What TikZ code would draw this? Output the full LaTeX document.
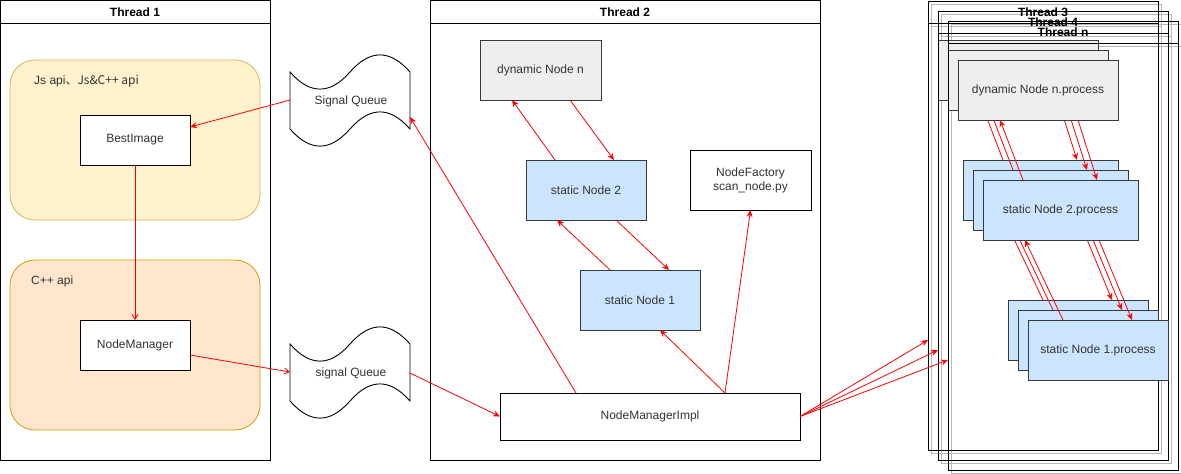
\documentclass[tikz,border=0pt]{standalone}
\usepackage{fontspec}
\setmainfont{Liberation Sans}
\newfontfamily\cjk{Noto Sans CJK SC}
\usetikzlibrary{arrows.meta,calc,positioning}
\definecolor{boxedge}{HTML}{36393D}
\definecolor{statfill}{HTML}{CCE5FF}
\definecolor{dynfill}{HTML}{EEEEEE}
\definecolor{jsfill}{HTML}{FFF2CC}
\definecolor{jsedge}{HTML}{D6B656}
\definecolor{cppfill}{HTML}{FFE6CC}
\definecolor{cppedge}{HTML}{D79B00}
\definecolor{txtgrey}{HTML}{333333}
\definecolor{shadowgrey}{HTML}{B8B8B8}
\definecolor{arrowred}{HTML}{FF0000}

\tikzset{
  lane/.style={draw=black, line width=1pt},
  laneshadow/.style={draw=shadowgrey, line width=1pt},
  lanetitle/.style={font=\fontsize{12}{14}\selectfont\bfseries, text=black},
  jsgroup/.style={draw=jsedge, fill=jsfill, line width=0.8pt, rounded corners=25pt},
  cppgroup/.style={draw=cppedge, fill=cppfill, line width=0.8pt, rounded corners=25pt},
  grouplabel/.style={text=txtgrey, anchor=west, inner sep=0pt},
  plainbox/.style={draw=black, fill=white, line width=1pt, text=txtgrey, inner sep=0pt, outer sep=0pt, align=center},
  statbox/.style={draw=boxedge, fill=statfill, line width=1pt, text=txtgrey, inner sep=0pt, outer sep=0pt},
  dynbox/.style={draw=boxedge, fill=dynfill, line width=1pt, text=txtgrey, inner sep=0pt, outer sep=0pt},
  tapeline/.style={draw=black, fill=white, line width=0.9pt},
  redarrow/.style={draw=arrowred, line width=0.8pt, -{Stealth[length=7pt,width=6pt]}},
  openarrow/.style={draw=arrowred, line width=0.8pt, -{Straight Barb[length=5pt,width=6pt]}}
}

% tape shaped queue, top left corner at #1,#2
\newcommand{\tapeq}[2]{%
  \draw[tapeline, shift={(#1,#2)}] (0,19) .. controls (20,41.8) and (40,41.8) .. (60,19)
    .. controls (80,-3.8) and (100,-3.8) .. (120,19) -- (120,76)
    .. controls (100,53.2) and (80,53.2) .. (60,76)
    .. controls (40,98.8) and (20,98.8) .. (0,76) -- cycle;}

\begin{document}
\begin{tikzpicture}[x=1pt, y=-1pt, font=\fontsize{12}{14}\selectfont]
\useasboundingbox (0,0) rectangle (1181,474);

% Thread 1
\draw[lane] (0.5,0.5) rectangle (270,460);
\draw[lane] (0.5,23) -- (270,23);
\node[lanetitle] (tone) at (135,12) {Thread 1};
\draw[jsgroup] (10,60) rectangle (260,220);
\node[grouplabel] (jslabel) at (34,81) {Js api\cjk{、}Js\&C++ api};
\draw[cppgroup] (10,260) rectangle (260,430);
\node[grouplabel] (cpplabel) at (31,281) {C++ api};
\node[plainbox, minimum width=110pt, minimum height=50pt] (best) at (135,140) {BestImage};
\node[plainbox, minimum width=110pt, minimum height=50pt] (nmgr) at (135,345) {NodeManager};

% queues
\tapeq{290}{53}
\node[text=txtgrey] (sqone) at (351,101) {Signal Queue};
\coordinate (sqonew) at (290,100);
\coordinate (sqonee) at (410,117);
\tapeq{290}{325}
\node[text=txtgrey] (sqtwo) at (351,373) {signal Queue};
\coordinate (sqtwow) at (290,372);
\coordinate (sqtwoe) at (410,373);

% Thread 2
\draw[lane] (430,0.5) rectangle (820,460);
\draw[lane] (430,23) -- (820,23);
\node[lanetitle] (ttwo) at (625,12) {Thread 2};
\node[dynbox, minimum width=121pt, minimum height=60pt] (dynn) at (540.5,70) {dynamic Node n};
\node[statbox, minimum width=120pt, minimum height=60pt] (stwo) at (586,190) {static Node 2};
\node[plainbox, minimum width=121pt, minimum height=60pt] (fact) at (750.5,180) {NodeFactory\\scan\_node.py};
\node[statbox, minimum width=120pt, minimum height=60pt] (sone) at (640,300) {static Node 1};
\node[plainbox, minimum width=300pt, minimum height=47pt] (impl) at (650,416.5) {NodeManagerImpl};

% Thread 3, 4, n
\foreach \k in {0,1,2}
  \draw[laneshadow, shift={(10*\k,10*\k)}] (931,4) rectangle (1161,453) (931,26) -- (1161,26);
\foreach \k/\tn in {0/3,1/4,2/n} {
  \begin{scope}[shift={(10*\k,10*\k)}]
    \draw[lane] (928,1) rectangle (1158,450) (928,23) -- (1158,23);
    \node[lanetitle] (t\tn) at (1043,12) {Thread \tn};
    \coordinate (in\tn) at (928,340);
    \node[dynbox, minimum width=160pt, minimum height=60pt] (dp\tn) at (1018,70) {dynamic Node n.process};
    \node[statbox, minimum width=155pt, minimum height=60pt] (sptwo\tn) at (1040.5,190) {static Node 2.process};
    \node[statbox, minimum width=140pt, minimum height=60pt] (spone\tn) at (1078,330) {static Node 1.process};
    \draw[redarrow] ([xshift=-37.5pt]sptwo\tn.north) -- ([xshift=-38pt]dp\tn.south);
    \draw[redarrow] ([xshift=40pt]dp\tn.south) -- ([xshift=36.5pt]sptwo\tn.north);
    \draw[redarrow] ([xshift=-35pt]spone\tn.north) -- ([xshift=-35.5pt]sptwo\tn.south);
    \draw[redarrow] ([xshift=38.5pt]sptwo\tn.south) -- ([xshift=34pt]spone\tn.north);
  \end{scope}
}

% connectors
\draw[redarrow] (sqonew) -- ([yshift=13pt]best.east);
\draw[openarrow] (best.south) -- (nmgr.north);
\draw[openarrow] ([yshift=-10pt]nmgr.east) -- (sqtwow);
\draw[redarrow] (sqtwoe) -- (impl.west);
\draw[redarrow] ([xshift=-74pt]impl.north) -- (sqonee);
\draw[redarrow] ([xshift=-31pt]stwo.north) -- ([xshift=-28.5pt]dynn.south);
\draw[redarrow] ([xshift=29.5pt]dynn.south) -- ([xshift=28pt]stwo.north);
\draw[redarrow] ([xshift=-30pt]sone.north) -- ([xshift=-29pt]stwo.south);
\draw[redarrow] ([xshift=30pt]stwo.south) -- ([xshift=29pt]sone.north);
\draw[redarrow] ([xshift=75pt]impl.north) -- ([xshift=20pt]sone.south);
\draw[redarrow] ([xshift=75pt]impl.north) -- (fact.south);
\foreach \tn in {3,4,n}
  \draw[redarrow] (impl.east) -- (in\tn);
\end{tikzpicture}
\end{document}
